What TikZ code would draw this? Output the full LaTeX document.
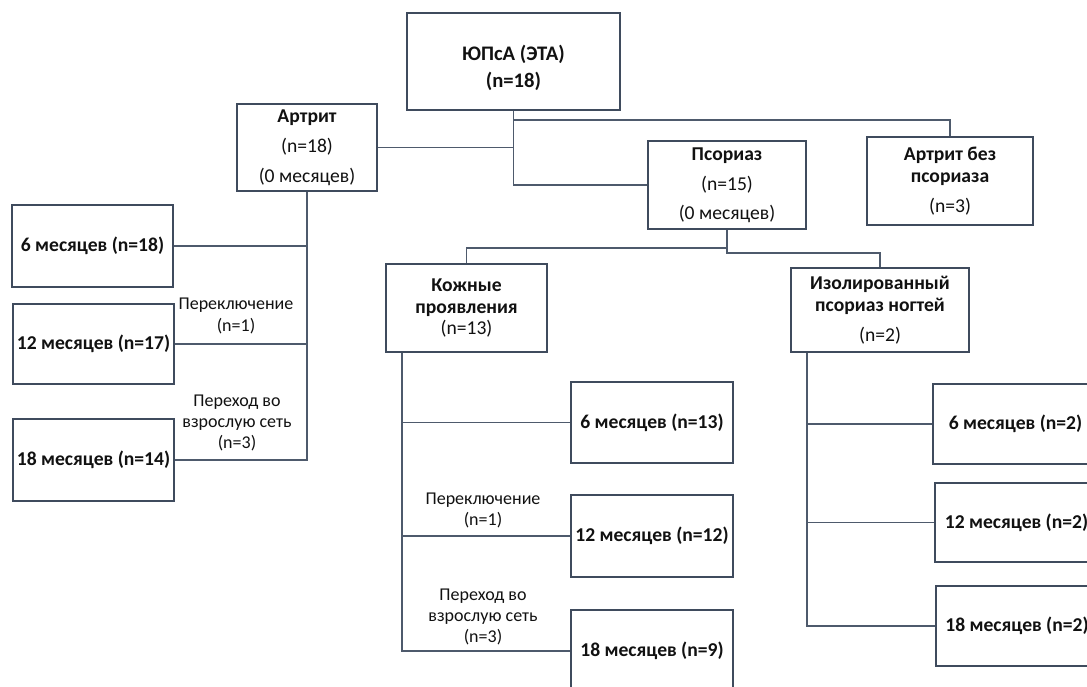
\documentclass[tikz,border=0pt]{standalone}
\usepackage{fontspec}
\setmainfont{Carlito}
\usetikzlibrary{calc}
\definecolor{boxc}{HTML}{3F4B5D}
\definecolor{linec}{HTML}{4E5A6C}
\definecolor{txt}{HTML}{111111}
\tikzset{
  box/.style={draw=boxc, line width=1.8pt, rectangle, align=center, inner sep=0pt, text=txt,
    font=\bfseries\fontsize{14.7}{16}\selectfont},
  conn/.style={draw=linec, line width=1.3pt},
  lbl/.style={align=center, inner sep=0pt, text=txt, font=\fontsize{13.5}{16}\selectfont},
}
\begin{document}
\begin{tikzpicture}[x=0.75pt, y=-0.75pt]
\clip (0,0) rectangle (1087,686);
\fill[white] (0,0) rectangle (1087,686);

% top level
\node[box, minimum width=159.75pt, minimum height=72.75pt, font=\bfseries\fontsize{15.5}{20}\selectfont]
  (top) at (513.5,61.5) {\rule{0pt}{21pt}ЮПсА (ЭТА)\\(n=18)};
\node[box, minimum width=105pt, minimum height=65.25pt] (art) at (307,147.5)
  {Артрит\\[7pt]{\mdseries (n=18)}\\[6pt]{\mdseries (0 месяцев)}};
\node[box, minimum width=118.5pt, minimum height=66pt] (pso) at (727,185)
  {Псориаз\\[6.5pt]{\mdseries (n=15)}\\[6pt]{\mdseries (0 месяцев)}};
\node[box, minimum width=124.5pt, minimum height=66pt] (apn) at (950,181)
  {Артрит без\\псориаза\\[6.5pt]{\mdseries (n=3)}};
\node[box, minimum width=120.75pt, minimum height=66pt] (kozh) at (466.5,308)
  {Кожные\\проявления\\{\mdseries (n=13)}};
\node[box, minimum width=133.5pt, minimum height=63pt] (iso) at (880,310)
  {Изолированный\\псориаз ногтей\\[6.5pt]{\mdseries (n=2)}};

% left column
\node[box, minimum width=120.75pt, minimum height=61.5pt] (L6) at (92.5,246) {6 месяцев (n=18)};
\node[box, minimum width=120.75pt, minimum height=60pt] (L12) at (93.5,344) {12 месяцев (n=17)};
\node[box, minimum width=120.75pt, minimum height=61.5pt] (L18) at (93.5,460) {18 месяцев (n=14)};

% middle column
\node[box, minimum width=121.5pt, minimum height=60.75pt] (M6) at (652,422.5) {6 месяцев (n=13)};
\node[box, minimum width=121.5pt, minimum height=61.5pt] (M12) at (652,536) {12 месяцев (n=12)};
\node[box, minimum width=121.5pt, minimum height=61.5pt] (M18) at (652,651) {18 месяцев (n=9)};

% right column
\node[box, minimum width=123.75pt, minimum height=60pt] (R6) at (1015.5,424) {6 месяцев (n=2)};
\node[box, minimum width=122.25pt, minimum height=59.25pt] (R12) at (1016.5,522.5) {12 месяцев (n=2)};
\node[box, minimum width=121.5pt, minimum height=60pt] (R18) at (1017,626) {18 месяцев (n=2)};

% labels
\node[lbl] (sw1) at (236,316) {Переключение\\(n=1)};
\node[lbl] (tr1) at (237,423) {Переход во\\взрослую сеть\\(n=3)};
\node[lbl] (sw2) at (483,510.5) {Переключение\\(n=1)};
\node[lbl] (tr2) at (483,617) {Переход во\\взрослую сеть\\(n=3)};

% connectors
\coordinate (tj) at ($(top.south)+(0,9)$);
\draw[conn] (top.south) -- (top.south |- pso.west) -- (pso.west);
\draw[conn] (tj) -| (apn.north);
\draw[conn] (art.east) -- (art.east -| top.south);

\coordinate (pj1) at ($(pso.south)+(0,18)$);
\coordinate (pj2) at ($(pso.south)+(0,23)$);
\draw[conn] (pso.south) -- (pj1) -| (kozh.north);
\draw[conn] (pj1) -- (pj2) -| (iso.north);

\draw[conn] (art.south) -- (art.south |- L18.east) -- (L18.east);
\draw[conn] (L6.east) -- (L6.east -| art.south);
\draw[conn] (L12.east) -- (L12.east -| art.south);

\coordinate (kv) at ($(kozh.south west)+(17,0)$);
\draw[conn] (kv) -- (kv |- M18.west) -- (M18.west);
\draw[conn] (M6.west) -- (M6.west -| kv);
\draw[conn] (M12.west) -- (M12.west -| kv);

\coordinate (iv) at ($(iso.south west)+(17,0)$);
\draw[conn] (iv) -- (iv |- R18.west) -- (R18.west);
\draw[conn] (R6.west) -- (R6.west -| iv);
\draw[conn] (R12.west) -- (R12.west -| iv);
\end{tikzpicture}
\end{document}
